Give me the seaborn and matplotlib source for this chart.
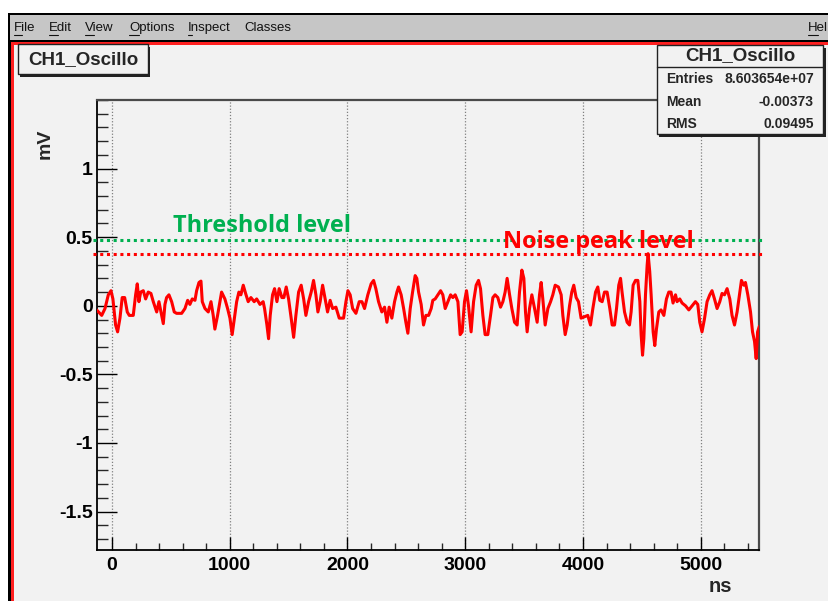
import numpy as np
import pandas as pd
import matplotlib
matplotlib.use("Agg")
import matplotlib.pyplot as plt
import seaborn as sns
from matplotlib.patches import Rectangle
from matplotlib.lines import Line2D
from matplotlib.ticker import MultipleLocator

# ---------------- data ----------------
seg1_t = [-130, -87, -59, -31, -8, 8, 31, 48, 68, 87, 108, 130, 147, 181, 201, 215, 229, 244, 266, 286,
          308, 331, 351, 380, 399, 422, 436, 450, 464, 484, 507, 529, 549, 592, 620, 643, 662, 682, 705, 719,
          739, 756, 767, 790, 818, 841, 860, 874, 897, 917, 931, 959, 982, 1002, 1021, 1038, 1059, 1078, 1095, 1115,
          1135, 1157, 1180, 1208, 1229, 1257, 1284]
seg1_v = [-0.03, -0.07, -0.02, 0.08, 0.11, 0.05, -0.14, -0.19, -0.09, 0.06, 0.06, -0.045, -0.07, -0.07, 0.08, 0.16, 0.03, 0.10, 0.11, 0.05,
          0.10, 0.09, 0.03, -0.045, 0.03, -0.07, -0.13, 0.01, 0.06, 0.08, 0.03, -0.045, -0.055, -0.055, -0.02, 0.04, 0.01, 0.05, 0.04, 0.11,
          0.17, 0.18, 0.03, -0.02, -0.045, 0.03, -0.07, -0.17, -0.07, 0.03, 0.10, 0.05, -0.02, -0.09, -0.21, -0.10, 0.03, 0.10, 0.08, 0.15,
          0.09, 0.03, 0.06, 0.03, 0.05, 0.01, 0.03]
seg2_t = [1296, 1316, 1330, 1344, 1364, 1381, 1401, 1420, 1443, 1460, 1480, 1500, 1522, 1543, 1562, 1585, 1607, 1628, 1647, 1670,
          1692, 1712, 1732, 1749, 1768, 1789, 1811, 1831, 1853, 1874, 1902, 1930, 1967, 1987, 2004, 2023, 2044, 2072, 2100, 2123,
          2145, 2173, 2201, 2222, 2241, 2264, 2292, 2315, 2335, 2354, 2377, 2400, 2420, 2434, 2456, 2477, 2496, 2513, 2533, 2553,
          2575, 2589, 2604, 2626, 2646, 2666, 2689, 2711]
seg2_v = [-0.02, -0.14, -0.24, -0.07, 0.08, 0.125, 0.03, 0.125, 0.06, 0.06, 0.137, 0.05, -0.09, -0.23, -0.07, 0.10, 0.15, 0.05, -0.07, 0.03,
          0.10, 0.185, 0.08, -0.045, 0.03, 0.15, 0.05, -0.045, 0.04, -0.02, -0.01, -0.09, -0.09, 0.03, 0.11, 0.08, -0.02, -0.055, 0.03, 0.03,
          -0.02, 0.08, 0.16, 0.185, 0.125, 0.03, -0.045, -0.01, -0.12, -0.01, -0.09, 0.03, 0.10, 0.137, 0.08, -0.02, -0.12, -0.20, -0.02, 0.10,
          0.22, 0.20, 0.10, 0.01, -0.14, -0.07, -0.07, -0.02]
seg3_t = [2725, 2745, 2768, 2791, 2810, 2830, 2853, 2876, 2895, 2915, 2938, 2957, 2974, 2994, 3011, 3028, 3050, 3071, 3093, 3113,
          3130, 3150, 3169, 3192, 3215, 3235, 3254, 3277, 3300, 3320, 3339, 3356, 3377, 3396, 3419, 3441, 3461, 3481, 3498, 3512,
          3526, 3546, 3566, 3589, 3611, 3631, 3645, 3659, 3679, 3702, 3725, 3744, 3764, 3792, 3815, 3829, 3849, 3866, 3886, 3905,
          3922, 3942, 3962, 3984, 4013, 4041, 4064, 4084]
seg3_v = [0.04, 0.05, 0.08, 0.11, 0.08, -0.02, 0.03, 0.08, 0.06, 0.08, 0.03, -0.21, -0.19, 0.03, 0.11, 0.00, -0.19, 0.03, 0.15, 0.185,
          0.125, -0.07, -0.21, -0.21, -0.07, 0.06, 0.08, 0.06, -0.01, 0.03, 0.10, 0.20, 0.08, -0.02, -0.12, -0.14, 0.10, 0.26, 0.20, -0.045,
          -0.19, -0.02, 0.08, -0.02, -0.12, 0.08, 0.17, 0.05, -0.14, -0.02, 0.03, 0.08, 0.15, 0.137, 0.08, -0.07, -0.21, -0.14, 0.00, 0.10,
          0.15, 0.06, 0.03, -0.09, -0.08, -0.07, -0.14, -0.02]
seg4_t = [4107, 4126, 4143, 4163, 4183, 4205, 4228, 4248, 4268, 4285, 4304, 4319, 4332, 4353, 4375, 4395, 4409, 4426, 4446, 4466,
          4483, 4494, 4506, 4517, 4531, 4545, 4553, 4567, 4579, 4596, 4610, 4624, 4644, 4663, 4687, 4709, 4729, 4748, 4765, 4786,
          4799, 4822, 4842, 4871, 4899, 4927, 4955, 4975, 4992, 5011, 5032, 5054, 5077, 5096, 5117, 5139, 5162, 5181, 5202, 5224,
          5247, 5266, 5287, 5309, 5332, 5346, 5366, 5380, 5400, 5423, 5440, 5457, 5471, 5483, 5498]
seg4_v = [0.10, 0.137, 0.04, 0.03, 0.10, 0.10, -0.02, -0.14, -0.14, -0.02, 0.15, 0.20, 0.10, -0.045, -0.12, -0.14, -0.045, 0.15, 0.185, 0.185,
          0.03, -0.21, -0.36, -0.24, 0.08, 0.295, 0.38, 0.25, 0.08, -0.19, -0.29, -0.17, -0.045, -0.03, -0.07, 0.05, 0.10, 0.10, 0.02, 0.08,
          0.03, 0.05, 0.02, 0.00, -0.03, 0.00, 0.03, 0.01, -0.12, -0.19, -0.095, 0.03, 0.08, 0.11, 0.05, -0.02, 0.03, 0.09, 0.08, 0.125,
          0.05, -0.07, -0.14, -0.045, 0.10, 0.185, 0.15, 0.17, 0.08, -0.045, -0.19, -0.26, -0.385, -0.19, -0.15]

threshold_level = 0.48
noise_peak_level = 0.38
x_ticks = [0, 1000, 2000, 3000, 4000, 5000]
x_tick_labels = ["0", "1000", "2000", "3000", "4000", "5000"]
y_ticks = [-1.5, -1, -0.5, 0, 0.5, 1]
y_tick_labels = ["-1.5", "-1", "-0.5", "0", "0.5", "1"]
hist_title = "CH1_Oscillo"
stats_labels = ["Entries", "Mean", "RMS"]
stats_values = ["8.603654e+07", "-0.00373", "0.09495"]
menu_items = ["File", "Edit", "View", "Options", "Inspect", "Classes", "Hel"]

# ---------------- figure ----------------
W, H = 829, 601
sns.set_theme(style="ticks")
plt.rcParams["font.family"] = ["Liberation Sans", "DejaVu Sans"]
plt.rcParams["axes.unicode_minus"] = False

fig = plt.figure(figsize=(W / 100, H / 100), dpi=100, facecolor="white")

def fx(x):
    return x / W

def fy(y):
    return 1 - y / H

def prect(x0, y0, x1, y1, z=-10, **kw):
    fig.add_artist(Rectangle((fx(x0), fy(y1)), (x1 - x0) / W, (y1 - y0) / H,
                             transform=fig.transFigure, zorder=z, **kw))

# window chrome (below the axes)
prect(8, 13, W + 5, H + 5, facecolor="black", edgecolor="none")
prect(10, 14.5, W + 5, 40, facecolor="#c6c6c6", edgecolor="none")
prect(11.5, 41.7, W + 5, H + 5, facecolor="#ff2020", edgecolor="none")
prect(14, 45, W + 5, H + 5, facecolor="#f2f2f2", edgecolor="none")

# menu
menu_x = [14, 49, 85, 129, 188, 244, 808]
menu_ul = [True, True, True, True, True, False, True]
renderer = fig.canvas.get_renderer()
for name, mx, ul in zip(menu_items, menu_x, menu_ul):
    fig.text(fx(mx), fy(28), name, fontsize=9.5, fontweight="normal", color="#111111",
             ha="left", va="center", family=["Liberation Sans", "DejaVu Sans"])
    if ul:
        tmp = fig.text(fx(mx), fy(28), name[0], fontsize=9.5, fontweight="normal",
                       ha="left", va="center", family=["Liberation Sans", "DejaVu Sans"])
        bb = tmp.get_window_extent(renderer)
        tmp.remove()
        fig.add_artist(Line2D([bb.x0 / W, bb.x1 / W], [fy(34.5), fy(34.5)],
                              transform=fig.transFigure, color="#111111", lw=0.8))

# axes placement (pixel frame: x 97..759, y 100..550)
ax_l, ax_r, ax_t, ax_b = 97, 759, 100, 550
ax = fig.add_axes([fx(ax_l), fy(ax_b), (ax_r - ax_l) / W, (ax_b - ax_t) / H])
ax.set_facecolor("#f2f2f2")

df = pd.DataFrame({
    "t": seg1_t + seg2_t + seg3_t + seg4_t,
    "v": seg1_v + seg2_v + seg3_v + seg4_v,
})
sns.lineplot(data=df, x="t", y="v", ax=ax, color="#ff0000", lw=2.2,
             estimator=None, sort=False, zorder=3)

ax.set_xlim(-127, 5495)
ax.set_ylim(-1.78, 1.5)
ax.set_xlabel("")
ax.set_ylabel("")

ax.set_xticks(x_ticks, labels=x_tick_labels, fontsize=14, fontweight="bold")
ax.set_yticks(y_ticks, labels=y_tick_labels, fontsize=14, fontweight="bold")
ax.xaxis.set_minor_locator(MultipleLocator(200))
ax.yaxis.set_minor_locator(MultipleLocator(0.1))
ax.tick_params(axis="x", which="major", direction="in", length=9.5, width=1, pad=5, colors="black")
ax.tick_params(axis="x", which="minor", direction="in", length=5, width=1)
ax.tick_params(axis="y", which="major", direction="in", length=14.5, width=1, pad=3, colors="black")
ax.tick_params(axis="y", which="minor", direction="in", length=8, width=1)
ax.tick_params(top=False, right=False, which="both")

for s in ["left", "bottom"]:
    ax.spines[s].set_color("black")
    ax.spines[s].set_linewidth(1.3)
for s in ["top", "right"]:
    ax.spines[s].set_color("#4a4a4a")
    ax.spines[s].set_linewidth(1.6)

ax.grid(axis="x", which="major", linestyle=(0, (1, 1.5)), color="#808080", lw=0.9)
ax.grid(axis="y", visible=False)
ax.set_axisbelow(True)

# threshold / noise lines
ax.axhline(threshold_level, xmin=-0.006, xmax=1.009, color="#00b050", lw=2.2,
           linestyle=(0, (1, 1.2)), clip_on=False, zorder=4)
ax.axhline(noise_peak_level, xmin=-0.006, xmax=1.009, color="#ff0000", lw=2.2,
           linestyle=(0, (1, 1.2)), clip_on=False, zorder=4)
ax.text(518, 0.535, "Threshold level", color="#00b050", fontsize=16.9, fontweight="bold",
        family=["Open Sans", "DejaVu Sans"], ha="left", va="baseline", zorder=5)
ax.text(3320, 0.418, "Noise peak level", color="#ff0000", fontsize=16.9, fontweight="bold",
        family=["Open Sans", "DejaVu Sans"], ha="left", va="baseline", zorder=5)

# axis titles
fig.text(fx(45), fy(144), "mV", rotation=90, fontsize=14, fontweight="bold",
         ha="center", va="center")
fig.text(fx(732), fy(586), "ns", fontsize=14.5, fontweight="bold", ha="right", va="center")

# title box (top-left)
prect(20.5, 46.5, 150.5, 76.5, z=5, facecolor="#222222", edgecolor="none")
prect(18, 44, 148, 74, z=6, facecolor="#f2f2f2", edgecolor="#222222", lw=1.0)
fig.text(fx(83), fy(59.5), hist_title, fontsize=13.5, fontweight="bold", ha="center", va="center",
         zorder=7)

# stats box (top-right)
prect(659.5, 47.5, 826, 137, z=5, facecolor="#222222", edgecolor="none")
prect(657, 45, 823, 134, z=6, facecolor="#f2f2f2", edgecolor="#222222", lw=1.0)
fig.add_artist(Line2D([fx(657), fx(823)], [fy(67), fy(67)], transform=fig.transFigure,
                      color="#222222", lw=1.0, zorder=7))
fig.text(fx(740), fy(56), hist_title, fontsize=13.5, fontweight="bold", ha="center", va="center",
         zorder=7)
for lab, val, yy in zip(stats_labels, stats_values, [79, 101.5, 124]):
    fig.text(fx(666), fy(yy), lab, fontsize=10, fontweight="bold", ha="left", va="center", zorder=7)
    fig.text(fx(814), fy(yy), val, fontsize=10, fontweight="bold", ha="right", va="center", zorder=7)

fig.savefig("out.png", dpi=100, facecolor=fig.get_facecolor())
